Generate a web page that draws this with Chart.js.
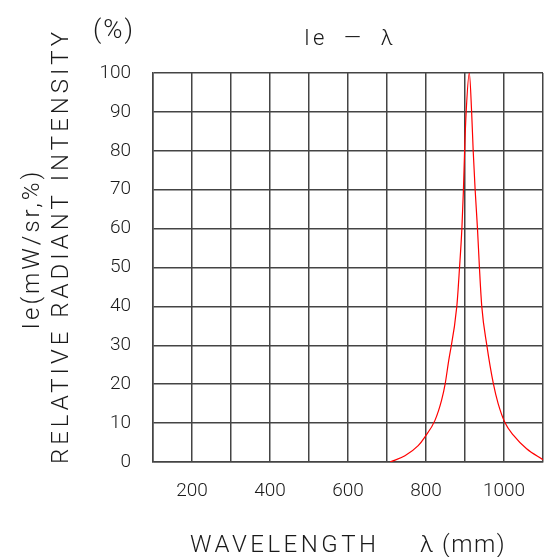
<!DOCTYPE html>
<html lang="en">
<head>
  <meta charset="UTF-8">
  <title>Ie - lambda</title>
  <script src="https://cdn.jsdelivr.net/npm/chart.js"></script>
  <style>
    html, body { margin: 0; padding: 0; background: #fff; }
    #wrap { width: 547px; height: 557px; }
  </style>
</head>
<body>
  <div id="wrap"><canvas id="spectrumChart"></canvas></div>

  <script>
    // wavelength (nm) and relative intensity (%)
    const wavelength = [708, 746, 780, 797, 823, 840, 849, 857, 879, 886, 892, 896, 899, 903, 911, 917, 921, 926, 932, 937, 943, 956, 973, 985, 1003, 1024, 1058, 1100];
    const intensity  = [0, 1.6, 4.2, 6.4, 10.7, 15.9, 20, 25.3, 40, 50, 60, 70, 80, 90, 100, 90, 80, 70, 60, 50, 40, 30, 20, 15, 10, 6.9, 3.4, 0.6];
    const xTickLabels = [200, 400, 600, 800, 1000];

    const FONT = 'Roboto, "DejaVu Sans", sans-serif';
    const gridColor = '#444';

    // axis titles drawn by hand so the letter spacing can follow the original
    const textPlugin = {
      id: 'texts',
      afterDraw(chart) {
        const c = chart.ctx;
        c.save();
        c.fillStyle = '#1a1a1a';
        c.textBaseline = 'alphabetic';

        c.font = '300 26px ' + FONT;
        c.textAlign = 'center';
        c.letterSpacing = '2px';
        c.fillText('(%)', 114, 38);

        c.font = '300 22px ' + FONT;
        c.letterSpacing = '3px';
        c.fillText('Ie  \u2014  \u03bb', 350, 45);

        c.font = '300 24px ' + FONT;
        c.textAlign = 'left';
        c.letterSpacing = '3.5px';
        c.fillText('WAVELENGTH', 190, 552);
        c.letterSpacing = '1.5px';
        c.fillText('\u03bb (mm)', 420, 552);

        c.save();
        c.translate(39, 249);
        c.rotate(-Math.PI / 2);
        c.textAlign = 'center';
        c.font = '300 24px ' + FONT;
        c.letterSpacing = '3px';
        c.fillText('Ie(mW/sr,%)', 0, 0);
        c.restore();

        c.save();
        c.translate(68, 246);
        c.rotate(-Math.PI / 2);
        c.textAlign = 'center';
        c.font = '300 24px ' + FONT;
        c.letterSpacing = '4px';
        c.fillText('RELATIVE RADIANT INTENSITY', 0, 0);
        c.restore();

        c.restore();
      }
    };

    const ctx = document.getElementById('spectrumChart').getContext('2d');
    new Chart(ctx, {
      type: 'line',
      data: {
        datasets: [{
          data: wavelength.map((w, i) => ({ x: w, y: intensity[i] })),
          borderColor: '#ff0000',
          borderWidth: 1.2,
          pointRadius: 0,
          cubicInterpolationMode: 'monotone',
          fill: false
        }]
      },
      options: {
        responsive: true,
        maintainAspectRatio: false,
        animation: false,
        layout: { padding: { top: 73, right: 4, left: 0, bottom: 0 } },
        plugins: { legend: { display: false }, tooltip: { enabled: false } },
        scales: {
          x: {
            type: 'linear',
            min: 100,
            max: 1100,
            afterFit: s => { s.height = 95; s.paddingRight = 0; s.paddingLeft = 0; },
            grid: { color: gridColor, lineWidth: 1.5, drawTicks: false },
            border: { color: gridColor, width: 1.5 },
            ticks: {
              stepSize: 100,
              padding: 18,
              autoSkip: false,
              minRotation: 0,
              maxRotation: 0,
              color: '#1a1a1a',
              font: { family: FONT, size: 19, weight: 300 },
              callback: v => xTickLabels.includes(v) ? String(v) : ''
            }
          },
          y: {
            min: 0,
            max: 100,
            afterFit: s => { s.width = 153; },
            grid: { color: gridColor, lineWidth: 1.5, drawTicks: false },
            border: { color: gridColor, width: 1.5 },
            ticks: {
              stepSize: 10,
              padding: 22,
              color: '#1a1a1a',
              font: { family: FONT, size: 19, weight: 300 }
            }
          }
        }
      },
      plugins: [textPlugin]
    });
  </script>
</body>
</html>
